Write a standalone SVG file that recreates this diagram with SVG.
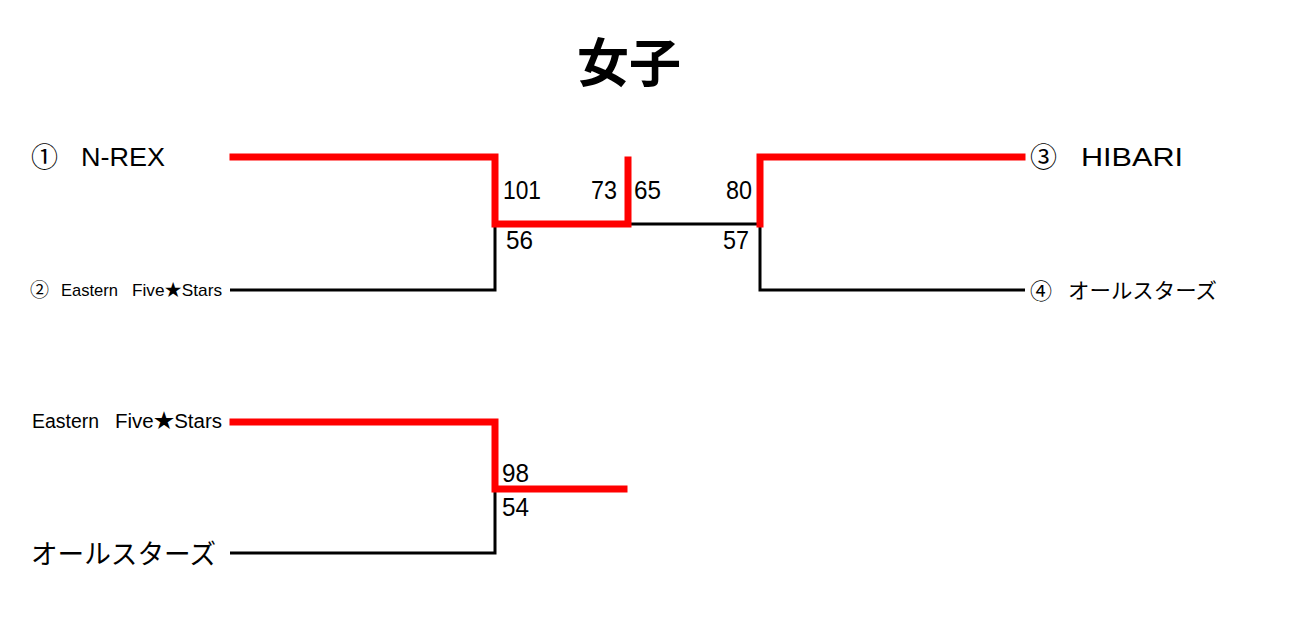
<svg xmlns="http://www.w3.org/2000/svg" width="1305" height="634" viewBox="0 0 1305 634">
<style>
text { font-family: "Liberation Sans", "Noto Sans CJK JP", sans-serif; fill: #000; }
.title { font-size: 52px; font-weight: bold; font-family: "Noto Sans CJK JP", sans-serif; }
.jp { font-family: "Noto Sans CJK JP", sans-serif; }
.score { font-size: 25px; }
.win { fill: none; stroke: #ff0000; stroke-width: 7; stroke-linejoin: miter; stroke-linecap: square; }
.lose { fill: none; stroke: #000; stroke-width: 3; stroke-linejoin: miter; }
</style>
<rect width="1305" height="634" fill="#fff"/>
<text class="title" x="629" y="82" text-anchor="middle">女子</text>

<g id="connectors">
  <path class="lose" d="M628,224 H760"/>
  <path class="lose" d="M495,224 V290 H230"/>
  <path class="lose" d="M760,224 V290 H1025"/>
  <path class="lose" d="M495,489 V553 H230"/>
  <path class="win" d="M233,157 H495 V224 H628 V160"/>
  <path class="win" d="M760,224 V157 H1022"/>
  <path class="win" d="M233,422 H495 V489 H624"/>
</g>

<g id="team1">
  <text class="jp" x="31" y="167" font-size="27" textLength="27" lengthAdjust="spacingAndGlyphs">①</text>
  <text x="81" y="166" font-size="26" textLength="84" lengthAdjust="spacingAndGlyphs">N-REX</text>
</g>
<g id="team2">
  <text class="jp" x="30" y="297" font-size="19" textLength="19" lengthAdjust="spacingAndGlyphs">②</text>
  <text x="61" y="296" font-size="17" textLength="57" lengthAdjust="spacingAndGlyphs">Eastern</text>
  <text x="132" y="296" font-size="17" textLength="90" lengthAdjust="spacingAndGlyphs">Five★Stars</text>
</g>
<g id="team3">
  <text class="jp" x="1030" y="167" font-size="27" textLength="27" lengthAdjust="spacingAndGlyphs">③</text>
  <text x="1081" y="166" font-size="26" textLength="102" lengthAdjust="spacingAndGlyphs">HIBARI</text>
</g>
<g id="team4">
  <text class="jp" x="1030" y="299" font-size="22" textLength="22" lengthAdjust="spacingAndGlyphs">④</text>
  <text class="jp" x="1068" y="298" font-size="21" textLength="149" lengthAdjust="spacingAndGlyphs">オールスターズ</text>
</g>
<g id="team5">
  <text x="32" y="428" font-size="20" textLength="67" lengthAdjust="spacingAndGlyphs">Eastern</text>
  <text x="115" y="428" font-size="20" textLength="107" lengthAdjust="spacingAndGlyphs">Five★Stars</text>
</g>
<g id="team6">
  <text class="jp" x="31" y="564" font-size="27" textLength="185" lengthAdjust="spacingAndGlyphs">オールスターズ</text>
</g>

<g id="scores">
  <text class="score" x="503" y="199" textLength="38" lengthAdjust="spacingAndGlyphs">101</text>
  <text class="score" x="591" y="199" textLength="26" lengthAdjust="spacingAndGlyphs">73</text>
  <text class="score" x="634" y="199" textLength="27" lengthAdjust="spacingAndGlyphs">65</text>
  <text class="score" x="726" y="199" textLength="26" lengthAdjust="spacingAndGlyphs">80</text>
  <text class="score" x="506" y="249" textLength="27" lengthAdjust="spacingAndGlyphs">56</text>
  <text class="score" x="723" y="249" textLength="26" lengthAdjust="spacingAndGlyphs">57</text>
  <text class="score" x="502" y="482" textLength="27" lengthAdjust="spacingAndGlyphs">98</text>
  <text class="score" x="502" y="516" textLength="27" lengthAdjust="spacingAndGlyphs">54</text>
</g>
</svg>
